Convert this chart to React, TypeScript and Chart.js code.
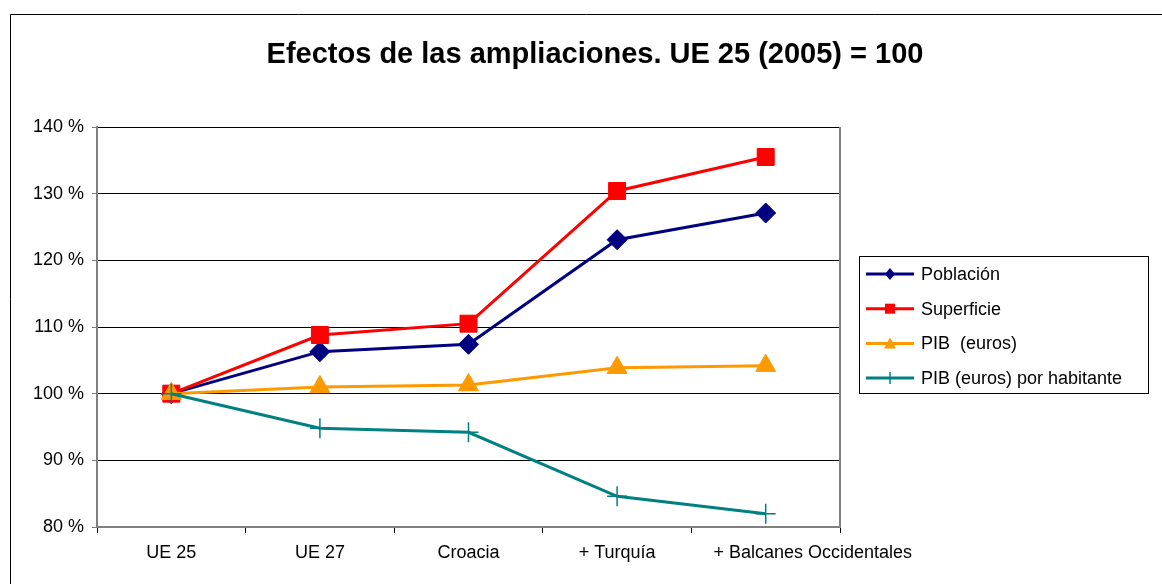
import React, { useEffect, useRef } from "react";
import { Chart, registerables } from "chart.js";

Chart.register(...registerables);

const FONT = "'Liberation Sans', Arial, Helvetica, sans-serif";

const chartTitle = "Efectos de las ampliaciones. UE 25 (2005) = 100";
const categories = ["UE 25", "UE 27", "Croacia", "+ Turquía", "+ Balcanes Occidentales"];
const seriesNames = ["Población", "Superficie", "PIB  (euros)", "PIB (euros) por habitante"];
const poblacion = [100, 106.3, 107.4, 123.1, 127.1];
const superficie = [100, 108.8, 110.5, 130.4, 135.5];
const pib = [100, 101.0, 101.3, 103.9, 104.2];
const pibHabitante = [100, 94.8, 94.2, 84.6, 82.0];
const seriesColors = ["#000080", "#FF0000", "#FF9900", "#008080"];
const yMin = 80;
const yMax = 140;
const yStep = 10;

type Marker = "diamond" | "square" | "triangle" | "cross";
const legendMarkers: Marker[] = ["diamond", "square", "triangle", "cross"];

function drawLegendMarker(ctx: CanvasRenderingContext2D, kind: Marker, x: number, y: number, color: string) {
  ctx.fillStyle = color;
  ctx.strokeStyle = color;
  ctx.beginPath();
  if (kind === "diamond") {
    ctx.moveTo(x, y - 6);
    ctx.lineTo(x + 5, y);
    ctx.lineTo(x, y + 6);
    ctx.lineTo(x - 5, y);
    ctx.closePath();
    ctx.fill();
  } else if (kind === "square") {
    ctx.rect(x - 5, y - 5, 10, 10);
    ctx.fill();
  } else if (kind === "triangle") {
    ctx.moveTo(x, y - 6);
    ctx.lineTo(x + 6, y + 5);
    ctx.lineTo(x - 6, y + 5);
    ctx.closePath();
    ctx.fill();
  } else {
    ctx.lineWidth = 1.5;
    ctx.moveTo(x, y - 6);
    ctx.lineTo(x, y + 6);
    ctx.stroke();
  }
}

const decorPlugin = {
  id: "decor",
  afterUpdate(chart: any) {
    // Excel nudges the long last category label to the right to avoid overlap
    const items = chart.scales.x.getLabelItems();
    const last = items[items.length - 1];
    if (last && last.options && last.options.translation) {
      last.options.translation[0] += 47;
    }
  },
  afterDraw(chart: any) {
    const ctx: CanvasRenderingContext2D = chart.ctx;
    const a = chart.chartArea;
    ctx.save();
    // plot area right border
    ctx.strokeStyle = "#808080";
    ctx.lineWidth = 2;
    ctx.beginPath();
    ctx.moveTo(a.right, a.top);
    ctx.lineTo(a.right, a.bottom);
    ctx.stroke();
    // outer chart frame
    ctx.strokeStyle = "#000";
    ctx.lineWidth = 1;
    ctx.beginPath();
    ctx.moveTo(10.5, 600);
    ctx.lineTo(10.5, 14.5);
    ctx.lineTo(1170, 14.5);
    ctx.stroke();
    // title
    ctx.fillStyle = "#000";
    ctx.font = `bold 29px ${FONT}`;
    ctx.textAlign = "center";
    ctx.textBaseline = "middle";
    ctx.fillText(chartTitle, 595, 55);
    // legend box
    ctx.strokeStyle = "#000";
    ctx.lineWidth = 1;
    ctx.strokeRect(859.5, 256.5, 289, 137);
    ctx.font = `18px ${FONT}`;
    ctx.textAlign = "left";
    for (let i = 0; i < seriesNames.length; i++) {
      const y = 274 + i * 34.7;
      ctx.strokeStyle = seriesColors[i];
      ctx.lineWidth = 3;
      ctx.beginPath();
      ctx.moveTo(866, y);
      ctx.lineTo(914, y);
      ctx.stroke();
      drawLegendMarker(ctx, legendMarkers[i], 890, y, seriesColors[i]);
      ctx.fillStyle = "#000";
      ctx.textBaseline = "middle";
      ctx.fillText(seriesNames[i], 921, y + 1);
    }
    ctx.restore();
  },
};

export default function App() {
  const canvasRef = useRef<HTMLCanvasElement | null>(null);

  useEffect(() => {
    if (!canvasRef.current) return;
    const seriesData = [poblacion, superficie, pib, pibHabitante];
    const pointStyles = ["rectRot", "rect", "triangle", "cross"];
    const pointRadii = [10, 12, 11.5, 10];
    const orders = [3, 2, 1, 0];
    const chart = new Chart(canvasRef.current, {
      type: "line",
      data: {
        labels: categories,
        datasets: seriesNames.map((name, i) => ({
          label: name,
          data: seriesData[i],
          borderColor: seriesColors[i],
          backgroundColor: seriesColors[i],
          borderWidth: 3,
          pointStyle: pointStyles[i] as any,
          pointRadius: pointRadii[i],
          pointBackgroundColor: seriesColors[i],
          pointBorderColor: seriesColors[i],
          pointBorderWidth: i === 3 ? 1.5 : 1,
          tension: 0,
          fill: false,
          clip: false as any,
          order: orders[i],
        })),
      },
      options: {
        animation: false,
        responsive: false,
        devicePixelRatio: 1,
        events: [],
        layout: { padding: { top: 127, right: 322, bottom: 0, left: 0 } },
        plugins: {
          legend: { display: false },
          title: { display: false },
          tooltip: { enabled: false },
        },
        scales: {
          x: {
            type: "category",
            offset: true,
            grid: {
              display: true,
              offset: true,
              drawOnChartArea: false,
              drawTicks: true,
              tickLength: 6,
              tickColor: "#000",
            },
            border: { display: true, color: "#808080", width: 2 },
            ticks: {
              color: "#000",
              font: { family: FONT, size: 18 },
              padding: 9,
              autoSkip: false,
              maxRotation: 0,
              minRotation: 0,
            },
            afterFit: (scale: any) => {
              scale.height = 57;
            },
          },
          y: {
            min: yMin,
            max: yMax,
            grid: {
              color: "#000",
              lineWidth: 1,
              drawTicks: true,
              tickLength: 5,
              tickColor: "#808080",
            },
            border: { display: true, color: "#808080", width: 2 },
            ticks: {
              stepSize: yStep,
              color: "#000",
              font: { family: FONT, size: 18 },
              padding: 8,
              callback: (v: any) => `${v} %`,
            },
            afterFit: (scale: any) => {
              scale.width = 97;
            },
          },
        },
      },
      plugins: [decorPlugin],
    });
    return () => chart.destroy();
  }, []);

  return (
    <div style={{ position: "fixed", left: 0, top: 0, width: 1162, height: 584, background: "#fff" }}>
      <canvas ref={canvasRef} width={1162} height={584} style={{ display: "block", width: 1162, height: 584 }} />
    </div>
  );
}
